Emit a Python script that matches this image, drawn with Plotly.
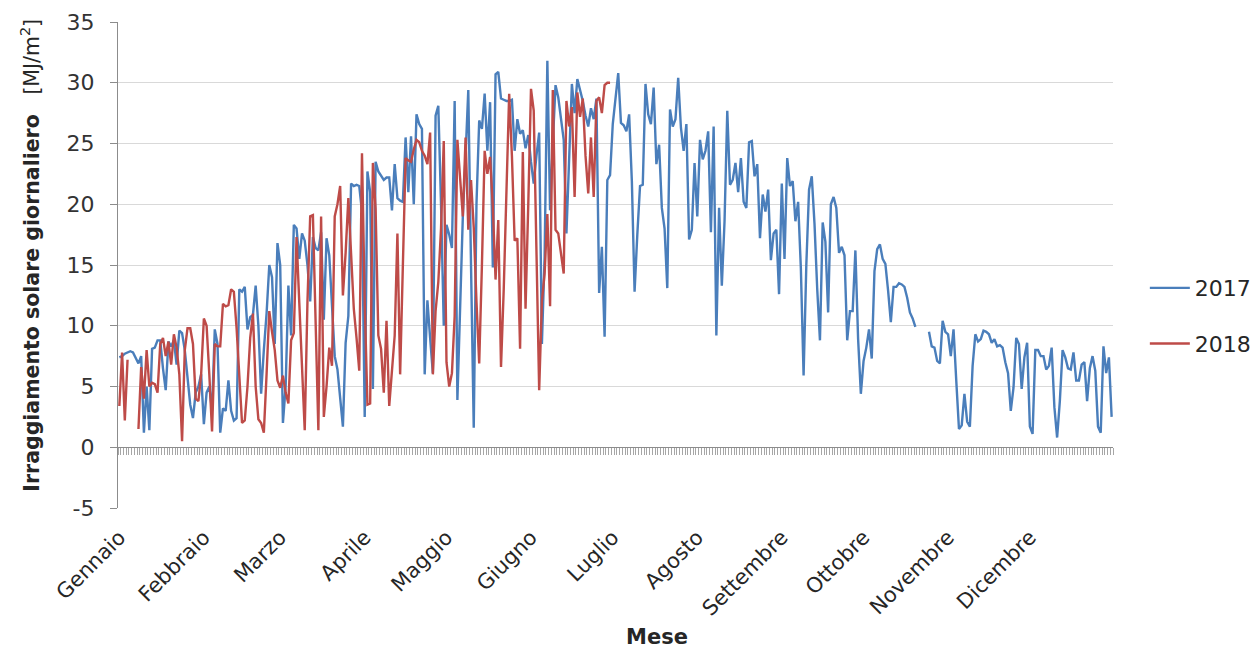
import plotly.graph_objects as go

# Daily global solar irradiation [MJ/m2], one value per day of the year
mesi = ["Gennaio", "Febbraio", "Marzo", "Aprile", "Maggio", "Giugno",
        "Luglio", "Agosto", "Settembre", "Ottobre", "Novembre", "Dicembre"]
inizio_mese = [0, 31, 59, 90, 120, 151, 181, 212, 243, 273, 304, 334]
tacche_y = [-5, 0, 5, 10, 15, 20, 25, 30, 35]

valori_2017 = [
    # Gennaio
    7.4, 7.5, 7.7, 7.8, 7.9, 7.8, 7.4, 6.9, 7.5, 1.2,
    5.0, 1.4, 8.1, 8.2, 8.8, 8.8, 6.5, 4.7, 8.7, 8.3,
    8.8, 6.8, 9.6, 9.4, 8.0, 6.0, 3.5, 2.4, 4.5, 5.0,
    6.0,
    # Febbraio
    1.9, 4.5, 5.0, 3.0, 9.7, 8.5, 1.2, 3.2, 3.0, 5.5,
    3.0, 2.2, 2.4, 13.0, 12.8, 13.2, 9.7, 10.7, 10.9, 13.3,
    10.0, 4.4, 8.0, 11.0, 15.0, 14.0, 8.5, 16.8,
    # Marzo
    15.0, 2.0, 5.0, 13.3, 9.2, 18.3, 18.0, 15.5, 17.6, 17.0,
    15.0, 12.0, 17.3, 16.4, 16.2, 17.7, 10.5, 17.2, 15.8, 11.0,
    7.5, 6.4, 4.0, 1.7, 8.6, 10.8, 21.7, 21.5, 21.6, 21.5,
    19.4,
    # Aprile
    2.5, 22.7, 21.0, 4.8, 23.5, 22.7, 22.3, 22.0, 22.2, 22.2,
    19.5, 23.3, 20.5, 20.3, 20.2, 25.5, 21.0, 25.6, 20.0, 27.4,
    26.6, 26.2, 6.0, 12.1, 9.0, 6.1, 27.3, 28.1, 20.0, 10.0,
    # Maggio
    18.3, 17.5, 16.4, 28.5, 3.9, 12.0, 19.0, 24.0, 29.4, 15.0,
    1.6, 20.0, 26.9, 26.2, 29.1, 24.4, 28.4, 14.8, 30.7, 30.9,
    28.7, 28.6, 28.5, 28.5, 28.6, 24.4, 27.0, 25.8, 26.1, 24.6,
    25.7,
    # Giugno
    23.5, 21.7, 24.0, 25.9, 8.5, 15.7, 31.8, 19.5, 25.0, 29.8,
    28.8, 27.0, 25.3, 17.6, 24.7, 29.9, 27.5, 30.3, 29.4, 28.5,
    27.3, 26.4, 27.9, 27.0, 28.7, 12.7, 16.5, 9.1, 22.0, 22.4,
    # Luglio
    26.6, 29.0, 30.8, 26.7, 26.5, 26.0, 27.4, 21.9, 12.8, 17.5,
    21.5, 21.6, 29.9, 27.4, 26.6, 29.6, 23.3, 24.9, 19.7, 18.0,
    13.1, 27.8, 26.4, 27.0, 30.4, 26.3, 24.4, 26.6, 17.1, 17.9,
    23.4,
    # Agosto
    19.0, 25.3, 23.7, 24.4, 26.0, 17.7, 26.4, 9.2, 19.7, 13.3,
    18.6, 27.7, 21.6, 22.0, 23.4, 21.0, 23.8, 20.2, 19.7, 25.1,
    25.2, 22.3, 23.3, 17.2, 20.8, 19.4, 21.2, 15.4, 17.6, 17.9,
    12.6,
    # Settembre
    21.7, 15.5, 23.8, 21.5, 21.9, 18.6, 20.2, 14.7, 5.9, 15.0,
    21.2, 22.3, 18.4, 13.0, 8.8, 18.5, 16.9, 11.1, 20.0, 20.6,
    19.7, 16.0, 16.5, 15.8, 8.8, 11.2, 11.2, 16.2, 8.9, 4.4,
    # Ottobre (dati mancanti dal 21 al 24)
    7.1, 8.2, 9.7, 7.3, 14.5, 16.3, 16.7, 15.5, 15.1, 12.9,
    10.3, 13.2, 13.2, 13.5, 13.4, 13.2, 12.3, 11.1, 10.6, 9.9,
    None, None, None, None, 9.5, 8.3, 8.2, 7.1, 6.9, 10.4,
    9.5,
    # Novembre
    9.3, 7.5, 9.7, 5.5, 1.5, 1.8, 4.4, 2.1, 1.7, 6.7,
    9.3, 8.7, 8.9, 9.6, 9.5, 9.3, 8.6, 8.9, 8.3, 8.4,
    8.2, 7.0, 6.1, 3.0, 4.9, 9.0, 8.5, 4.8, 7.4, 8.6,
    # Dicembre
    1.7, 1.1, 8.0, 8.0, 7.5, 7.5, 6.4, 6.7, 8.2, 3.3,
    0.8, 3.8, 8.0, 7.4, 6.5, 6.4, 7.8, 5.5, 5.5, 6.8,
    7.0, 3.8, 6.5, 7.5, 6.3, 1.7, 1.2, 8.3, 6.1, 7.4,
    2.5,
]

valori_2018 = [
    # Gennaio (dati mancanti dal 5 al 7)
    3.4, 7.8, 2.2, 7.2, None, None, None, 1.5, 6.6, 4.0,
    8.0, 5.0, 5.3, 5.2, 4.5, 8.5, 9.0, 7.5, 8.7, 6.8,
    9.3, 8.2, 6.0, 0.5, 8.0, 9.8, 9.8, 8.5, 4.0, 3.8,
    6.0,
    # Febbraio
    10.6, 10.0, 6.0, 1.3, 8.5, 8.3, 8.3, 11.8, 11.6, 11.7,
    13.0, 12.8, 9.8, 5.5, 2.0, 2.2, 5.0, 9.0, 11.0, 5.0,
    2.3, 2.0, 1.2, 6.0, 11.2, 9.5, 8.0, 5.5,
    # Marzo
    4.9, 5.9, 4.5, 3.6, 8.8, 9.4, 17.3, 11.9, 6.0, 1.4,
    12.0, 19.0, 19.1, 9.0, 1.4, 19.0, 2.5, 5.0, 8.2, 6.7,
    19.0, 20.0, 21.5, 12.5, 16.0, 20.5, 16.0, 11.4, 9.0, 6.3,
    24.2,
    # Aprile
    12.0, 3.5, 3.6, 23.4, 19.6, 9.2, 8.1, 4.5, 10.4, 3.4,
    6.0, 9.2, 17.6, 6.0, 15.0, 23.8, 23.6, 23.5, 24.5, 25.3,
    25.1, 24.4, 24.0, 23.3, 25.9, 6.0, 11.2, 13.6, 18.0, 25.2,
    # Maggio
    7.0, 5.0, 6.1, 10.8, 25.3, 22.0, 19.0, 25.5, 17.9, 22.0,
    18.1, 12.0, 6.9, 15.0, 24.4, 22.5, 23.9, 19.8, 13.8, 18.7,
    6.6, 13.0, 20.3, 29.1, 24.0, 17.0, 17.2, 8.1, 24.3, 11.4,
    20.0,
    # Giugno
    29.5, 27.7, 16.0, 4.7, 12.0, 14.3, 19.2, 11.6, 29.4, 17.9,
    17.6, 16.0, 14.3, 28.5, 26.4, 28.0, 20.6, 29.2, 27.2, 28.7,
    24.0, 20.9, 25.5, 20.6, 28.5, 28.8, 27.5, 29.8, 30.0, 30.0,
]

giorni_2017 = list(range(len(valori_2017)))
giorni_2018 = list(range(len(valori_2018)))

BLU = "#4A7EBB"
ROSSO = "#BE4B48"
GRIGIO_ASSE = "#8C8C8C"
GRIGIO_GRIGLIA = "#D9D9D9"
FONT = "DejaVu Sans"

fig = go.Figure()
fig.add_trace(go.Scatter(x=giorni_2017, y=valori_2017, name="2017", mode="lines",
                         line=dict(color=BLU, width=2.4), legendgroup="a",
                         connectgaps=False))
fig.add_trace(go.Scatter(x=giorni_2018, y=valori_2018, name="2018", mode="lines",
                         line=dict(color=ROSSO, width=2.4), legendgroup="b",
                         connectgaps=False))
# helper trace so the category axis crossing at y=0 gets drawn
fig.add_trace(go.Scatter(x=[None], y=[None], xaxis="x2", showlegend=False,
                         hoverinfo="skip"))

fig.update_layout(
    width=1256, height=648,
    margin=dict(l=118, r=143, t=22, b=140, autoexpand=False),
    paper_bgcolor="white", plot_bgcolor="white",
    font=dict(family=FONT, color="#262626", size=20),
    showlegend=True,
    legend=dict(x=1.032, y=0.395, xanchor="left", yanchor="middle",
                font=dict(size=22, color="#262626"), tracegroupgap=24,
                itemwidth=40, bgcolor="rgba(0,0,0,0)"),
    xaxis=dict(range=[-0.5, len(valori_2017) - 0.5], showgrid=False, zeroline=False,
               showline=False, ticks="", tickmode="array",
               tickvals=inizio_mese, ticktext=mesi, tickangle=-45,
               tickfont=dict(size=21, color="#262626"), ticklabelstandoff=12),
    xaxis2=dict(overlaying="x", matches="x", anchor="free", position=0.125,
                side="bottom", showgrid=False, zeroline=False, showline=True,
                linecolor=GRIGIO_ASSE, linewidth=1.3, ticks="outside", ticklen=7,
                tickwidth=1, tickcolor="#A6A6A6", tickmode="linear", tick0=-0.5,
                dtick=1, showticklabels=False),
    yaxis=dict(range=[-5, 35], tickmode="array", tickvals=tacche_y,
               ticktext=[str(v) for v in tacche_y], showgrid=True,
               gridcolor=GRIGIO_GRIGLIA, gridwidth=1.2, zeroline=False,
               showline=True, linecolor=GRIGIO_ASSE, linewidth=1.3,
               ticks="outside", ticklen=7, tickcolor=GRIGIO_ASSE,
               tickfont=dict(size=22, color="#333333"), ticklabelstandoff=11),
)

fig.add_annotation(text="<b>Mese</b>", xref="paper", yref="paper",
                   x=0.5417, y=-0.265, xanchor="center", yanchor="middle",
                   showarrow=False, font=dict(size=21, color="#262626"))
fig.add_annotation(text="<b>Irraggiamento solare giornaliero</b>   [MJ/m<sup>2</sup>]",
                   xref="paper", yref="paper", x=-0.088, y=0.52,
                   xanchor="center", yanchor="middle", textangle=-90,
                   showarrow=False, font=dict(size=20.5, color="#262626"))

fig.write_html("out.html")
